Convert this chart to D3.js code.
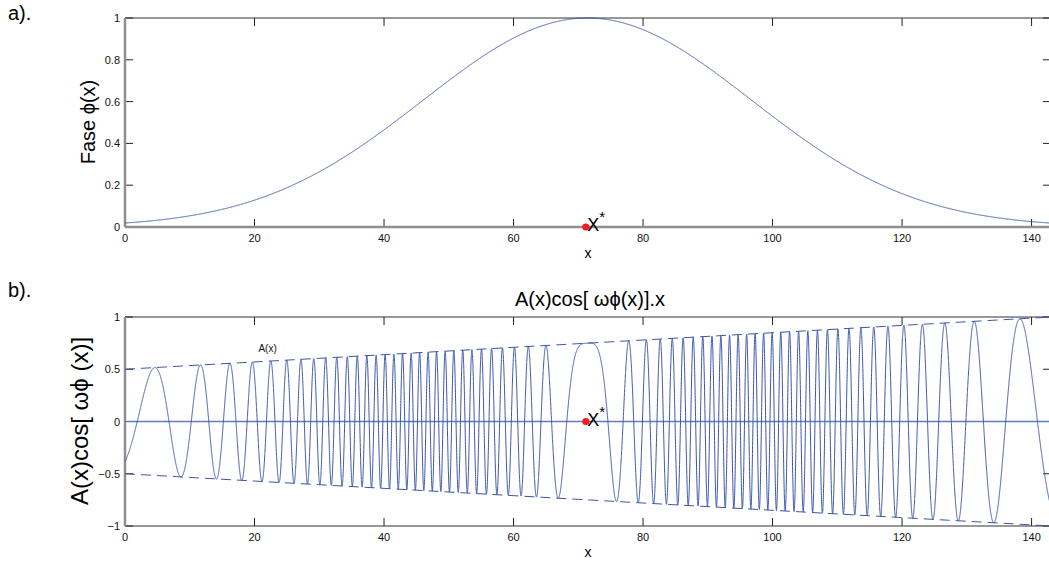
<!DOCTYPE html>
<html>
<head>
<meta charset="utf-8">
<script src="https://cdn.jsdelivr.net/npm/d3@7"></script>
<style>
  html, body { margin: 0; padding: 0; background: #fff; }
  svg { display: block; font-family: "Liberation Sans", Arial, sans-serif; }
</style>
</head>
<body>
<svg id="chart" width="1049" height="565"></svg>
<script>
// Axis ticks
const xTicks = [0, 20, 40, 60, 80, 100, 120, 140];
const phaseTicks = [0, 0.2, 0.4, 0.6, 0.8, 1];
const signalTicks = [-1, -0.5, 0, 0.5, 1];

// Domain of x and the stationary point x*
const xDomain = [0, 143];
const xStar = [71.4];

// Gaussian phase phi(x) = exp(-(x - x*)^2 / (2 sigma^2))
const phaseSigma = [25.37];
// Angular frequency omega
const omega = [201.06];
// Linear amplitude A(x): value at x = 0 and at x = 143
const ampEnds = [0.5, 1.0];

const phi = x => Math.exp(-((x - xStar[0]) ** 2) / (2 * phaseSigma[0] ** 2));
const amp = x => ampEnds[0] + (ampEnds[1] - ampEnds[0]) * (x - xDomain[0]) / (xDomain[1] - xDomain[0]);

const xs = d3.range(xDomain[0], xDomain[1] + 0.005, 0.01);
const phaseData = xs.map(x => ({ x, y: phi(x) }));
const signalData = xs.map(x => ({ x, y: amp(x) * Math.cos(omega[0] * phi(x)) }));

const svg = d3.select("#chart");
const blue = "#3b56aa";
const fmt = d => (d < 0 ? "\u2212" + Math.abs(d) : String(d));

const left = 125, right = 1051;
const x = d3.scaleLinear().domain(xDomain).range([left, right]);

function drawPanel(top, bottom, yDomain, yTicks, grayBottom) {
  const y = d3.scaleLinear().domain(yDomain).range([bottom, top]);
  const g = svg.append("g");
  const tl = 8;

  // frame: top and right borders
  g.append("line").attr("x1", left).attr("x2", right).attr("y1", top).attr("y2", top)
    .attr("stroke", "#333").attr("stroke-width", 1);
  g.append("line").attr("x1", right).attr("x2", right).attr("y1", top).attr("y2", bottom)
    .attr("stroke", "#333").attr("stroke-width", 1);

  // x ticks (bottom pointing up, top pointing down)
  xTicks.forEach(t => {
    g.append("line").attr("x1", x(t)).attr("x2", x(t)).attr("y1", bottom).attr("y2", bottom - tl)
      .attr("stroke", "#222");
    g.append("line").attr("x1", x(t)).attr("x2", x(t)).attr("y1", top).attr("y2", top + tl)
      .attr("stroke", "#222");
    g.append("text").attr("x", x(t)).attr("y", bottom + 15).attr("text-anchor", "middle")
      .attr("font-size", 11).attr("fill", "#111").text(fmt(t));
  });
  // y ticks (left pointing right, right pointing left)
  yTicks.forEach(t => {
    g.append("line").attr("x1", left).attr("x2", left + tl).attr("y1", y(t)).attr("y2", y(t))
      .attr("stroke", "#222");
    g.append("line").attr("x1", right).attr("x2", right - tl).attr("y1", y(t)).attr("y2", y(t))
      .attr("stroke", "#222");
    g.append("text").attr("x", left - 5).attr("y", y(t) + 4).attr("text-anchor", "end")
      .attr("font-size", 11).attr("fill", "#111").text(fmt(t));
  });
  // bottom axis and left axis
  g.append("line").attr("x1", left).attr("x2", right).attr("y1", bottom).attr("y2", bottom)
    .attr("stroke", grayBottom ? "#8f8f8f" : "#333").attr("stroke-width", grayBottom ? 2.5 : 1.2);
  g.append("line").attr("x1", left).attr("x2", left).attr("y1", top).attr("y2", bottom)
    .attr("stroke", "#8f8f8f").attr("stroke-width", 2.5);
  return y;
}

// ---- Panel a): phase ----
const yA = drawPanel(18, 227, [0, 1], phaseTicks, true);
svg.append("path").datum(phaseData)
  .attr("fill", "none").attr("stroke", blue).attr("stroke-width", 1)
  .attr("d", d3.line().x(d => x(d.x)).y(d => yA(d.y)));

// ---- Panel b): modulated signal ----
const yB = drawPanel(317, 526, [-1, 1], signalTicks, false);
const gB = svg.append("g");
gB.append("line").attr("x1", x(xDomain[0])).attr("x2", x(xDomain[1]))
  .attr("y1", yB(0)).attr("y2", yB(0))
  .attr("stroke", "#5f7cc4").attr("stroke-width", 1.6);
gB.append("path").datum(signalData)
  .attr("fill", "none").attr("stroke", blue).attr("stroke-width", 1)
  .attr("d", d3.line().x(d => x(d.x)).y(d => yB(d.y)));
// envelope +A(x) and -A(x)
[1, -1].forEach(s => {
  gB.append("line")
    .attr("x1", x(xDomain[0])).attr("y1", yB(s * amp(xDomain[0])))
    .attr("x2", x(xDomain[1])).attr("y2", yB(s * amp(xDomain[1])))
    .attr("stroke", blue).attr("stroke-width", 1).attr("stroke-dasharray", "10,6");
});
gB.append("text").attr("x", x(20.6)).attr("y", 352).attr("font-size", 10)
  .attr("fill", "#111").text("A(x)");

// x* markers
[[yA, 0], [yB, 0]].forEach(([yS, v]) => {
  svg.append("circle").attr("cx", x(xStar[0]) - 1.5).attr("cy", yS(v)).attr("r", 3.6).attr("fill", "#ee1c24");
  const t = svg.append("text").attr("x", x(xStar[0])).attr("y", yS(v) + 4)
    .attr("font-size", 18).attr("fill", "#000");
  t.append("tspan").text("X");
  t.append("tspan").attr("dy", -9).attr("font-size", 15).text("*");
});

// Axis labels and titles
svg.append("text").attr("x", 588).attr("y", 258).attr("text-anchor", "middle")
  .attr("font-size", 14).text("x");
svg.append("text").attr("x", 588).attr("y", 557).attr("text-anchor", "middle")
  .attr("font-size", 14).text("x");
svg.append("text").attr("transform", "translate(95,122) rotate(-90)").attr("text-anchor", "middle")
  .attr("font-size", 20).text("Fase \u03d5(x)");
svg.append("text").attr("transform", "translate(88,421) rotate(-90)").attr("text-anchor", "middle")
  .attr("font-size", 24).text("A(x)cos[ \u03c9\u03d5 (x)]");
svg.append("text").attr("x", 590).attr("y", 306).attr("text-anchor", "middle")
  .attr("font-size", 20).text("A(x)cos[ \u03c9\u03d5(x)].x");
svg.append("text").attr("x", 8).attr("y", 20).attr("font-size", 20).text("a).");
svg.append("text").attr("x", 8).attr("y", 297).attr("font-size", 20).text("b).");
</script>
</body>
</html>
